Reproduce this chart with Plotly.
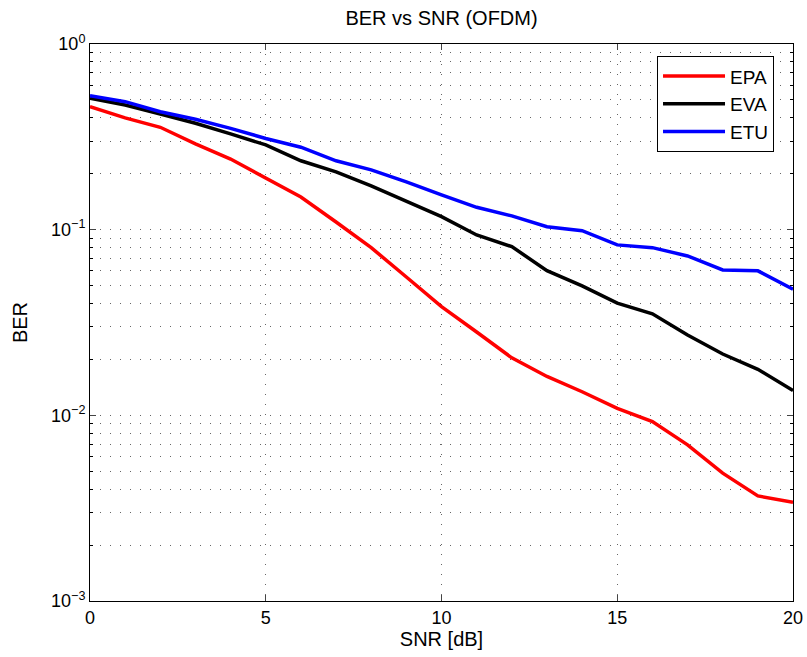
import plotly.graph_objects as go

snr = list(range(0, 21))
epa = [0.46, 0.40, 0.356, 0.29, 0.24, 0.189, 0.15, 0.11, 0.08, 0.0556, 0.0385,
       0.0281, 0.0204, 0.0162, 0.0134, 0.0109, 0.00925, 0.00693, 0.00488, 0.00368, 0.0034]
eva = [0.51, 0.469, 0.42, 0.374, 0.328, 0.286, 0.235, 0.205, 0.172, 0.142, 0.1175,
       0.0936, 0.081, 0.0602, 0.0498, 0.0402, 0.0352, 0.0271, 0.0214, 0.0177, 0.0136]
etu = [0.527, 0.489, 0.432, 0.393, 0.351, 0.31, 0.278, 0.235, 0.21, 0.181, 0.154,
       0.132, 0.1186, 0.1038, 0.0988, 0.0828, 0.08, 0.0722, 0.0607, 0.06, 0.0478]

series = [("EPA", epa, "#ff0000"), ("EVA", eva, "#000000"), ("ETU", etu, "#0000ff")]

ytickvals = [1e-3, 1e-2, 1e-1, 1]
yticktext = ["10<sup>−3</sup>", "10<sup>−2</sup>", "10<sup>−1</sup>", "10<sup>0</sup>"]
yminor = [m * 10 ** e for e in (-3, -2, -1) for m in range(2, 10)]
xtickvals = [0, 5, 10, 15, 20]

fig = go.Figure()
for name, vals, col in series:
    fig.add_trace(go.Scatter(x=snr, y=vals, mode="lines", name=name,
                             line=dict(color=col, width=3.5)))

GRID = "rgba(0,0,0,0.6)"
DASH = "1px,9px"
font = dict(family="Liberation Sans, Arial, sans-serif", size=18, color="black")
fig.update_layout(
    width=807, height=657,
    margin=dict(l=90, r=14, t=44, b=56),
    paper_bgcolor="white", plot_bgcolor="white",
    font=font,
    title=dict(text="BER vs SNR (OFDM)", x=(90 + 793) / 2 / 807, xanchor="center",
               y=1 - 18 / 657, yanchor="middle", font=dict(size=20)),
    showlegend=True,
    legend=dict(x=0.973, y=0.978, xanchor="right", yanchor="top",
                bgcolor="white", bordercolor="black", borderwidth=1,
                itemwidth=62, tracegroupgap=0,
                font=dict(size=19)),
)
fig.update_xaxes(range=[0, 20], tickvals=xtickvals, ticks="inside", ticklen=6,
                 showline=True, mirror="ticks", linecolor="black", linewidth=1,
                 showgrid=True, gridcolor=GRID, griddash=DASH, gridwidth=1,
                 zeroline=False, automargin=False,
                 title=dict(text="SNR [dB]", standoff=2, font=dict(size=20)))
fig.update_yaxes(type="log", range=[-3, 0], tickvals=ytickvals, ticktext=yticktext,
                 ticks="inside", ticklen=6,
                 showline=True, mirror="ticks", linecolor="black", linewidth=1,
                 showgrid=True, gridcolor=GRID, griddash=DASH, gridwidth=1,
                 zeroline=False, automargin=False,
                 minor=dict(tickvals=yminor, ticks="inside", ticklen=3, tickcolor="black",
                            showgrid=True, gridcolor=GRID, griddash=DASH, gridwidth=1),
                 title=dict(text="BER", standoff=18, font=dict(size=20)))

fig.write_html("out.html", config={"displayModeBar": False},
               post_script="document.body.style.margin='0';")
